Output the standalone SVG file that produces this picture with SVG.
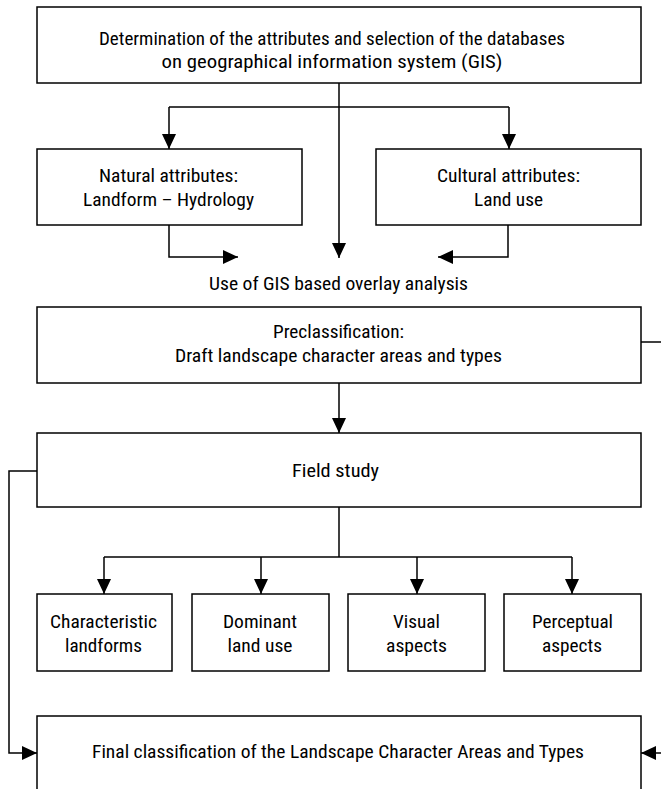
<svg xmlns="http://www.w3.org/2000/svg" width="661" height="789" viewBox="0 0 661 789">
<style>
.box{fill:#fff;stroke:#000;stroke-width:1.5}
.t{font-family:"Liberation Sans Narrow","Roboto Condensed","Liberation Sans",sans-serif;font-size:19px;fill:#000;text-anchor:middle}
.c{fill:none;stroke:#000;stroke-width:1.5}
</style>
<defs>
<marker id="ah" viewBox="0 0 15 14" refX="15" refY="7" markerWidth="15" markerHeight="14" markerUnits="userSpaceOnUse" orient="auto">
<path d="M0,0 L15,7 L0,14 Z" fill="#000"/>
</marker>
</defs>
<rect width="661" height="789" fill="#fff"/>
<g id="connectors">
<path class="c" d="M339,83 V258" marker-end="url(#ah)"/>
<path class="c" d="M169,107 H509"/>
<path class="c" d="M169,107 V149" marker-end="url(#ah)"/>
<path class="c" d="M509,107 V149" marker-end="url(#ah)"/>
<path class="c" d="M169,225 V257 H238" marker-end="url(#ah)"/>
<path class="c" d="M508,225 V257 H438" marker-end="url(#ah)"/>
<path class="c" d="M641,342 H661"/>
<path class="c" d="M339,383 V433" marker-end="url(#ah)"/>
<path class="c" d="M37,471 H9 V753 H37" marker-end="url(#ah)"/>
<path class="c" d="M339,507 V557"/>
<path class="c" d="M104,557 H572"/>
<path class="c" d="M104,557 V594" marker-end="url(#ah)"/>
<path class="c" d="M261,557 V594" marker-end="url(#ah)"/>
<path class="c" d="M417,557 V594" marker-end="url(#ah)"/>
<path class="c" d="M572,557 V594" marker-end="url(#ah)"/>
<path class="c" d="M661,753 H641" marker-end="url(#ah)"/>
</g>
<g id="n-determination">
<rect class="box" x="37" y="7" width="604" height="76"/>
<text class="t" x="332" y="45" textLength="466" lengthAdjust="spacingAndGlyphs">Determination of the attributes and selection of the databases</text>
<text class="t" x="332" y="68" textLength="341" lengthAdjust="spacingAndGlyphs">on geographical information system (GIS)</text>
</g>
<g id="n-natural">
<rect class="box" x="37" y="149" width="265" height="76"/>
<text class="t" x="168.5" y="182" textLength="139" lengthAdjust="spacingAndGlyphs">Natural attributes:</text>
<text class="t" x="168.5" y="206" textLength="171" lengthAdjust="spacingAndGlyphs">Landform – Hydrology</text>
</g>
<g id="n-cultural">
<rect class="box" x="376" y="149" width="265" height="76"/>
<text class="t" x="508.5" y="182" textLength="143" lengthAdjust="spacingAndGlyphs">Cultural attributes:</text>
<text class="t" x="508.5" y="206" textLength="69" lengthAdjust="spacingAndGlyphs">Land use</text>
</g>
<g id="n-overlay">
<text class="t" x="338.5" y="290" textLength="259" lengthAdjust="spacingAndGlyphs">Use of GIS based overlay analysis</text>
</g>
<g id="n-preclassification">
<rect class="box" x="37" y="307" width="604" height="76"/>
<text class="t" x="338.5" y="338" textLength="131" lengthAdjust="spacingAndGlyphs">Preclassification:</text>
<text class="t" x="338.5" y="362" textLength="327" lengthAdjust="spacingAndGlyphs">Draft landscape character areas and types</text>
</g>
<g id="n-field">
<rect class="box" x="37" y="433" width="604" height="74"/>
<text class="t" x="335.5" y="477" textLength="87" lengthAdjust="spacingAndGlyphs">Field study</text>
</g>
<g id="n-landforms">
<rect class="box" x="37" y="594" width="135" height="77"/>
<text class="t" x="103.5" y="628" textLength="107" lengthAdjust="spacingAndGlyphs">Characteristic</text>
<text class="t" x="103.5" y="652" textLength="77" lengthAdjust="spacingAndGlyphs">landforms</text>
</g>
<g id="n-landuse">
<rect class="box" x="192" y="594" width="137" height="77"/>
<text class="t" x="260" y="628" textLength="74" lengthAdjust="spacingAndGlyphs">Dominant</text>
<text class="t" x="260" y="652" textLength="65" lengthAdjust="spacingAndGlyphs">land use</text>
</g>
<g id="n-visual">
<rect class="box" x="348" y="594" width="137" height="77"/>
<text class="t" x="416.5" y="628" textLength="47" lengthAdjust="spacingAndGlyphs">Visual</text>
<text class="t" x="416.5" y="652" textLength="61" lengthAdjust="spacingAndGlyphs">aspects</text>
</g>
<g id="n-perceptual">
<rect class="box" x="504" y="594" width="137" height="77"/>
<text class="t" x="572.5" y="628" textLength="81" lengthAdjust="spacingAndGlyphs">Perceptual</text>
<text class="t" x="572" y="652" textLength="60" lengthAdjust="spacingAndGlyphs">aspects</text>
</g>
<g id="n-final">
<rect class="box" x="37" y="716" width="604" height="90"/>
<text class="t" x="338" y="758" textLength="492" lengthAdjust="spacingAndGlyphs">Final classification of the Landscape Character Areas and Types</text>
</g>
</svg>
